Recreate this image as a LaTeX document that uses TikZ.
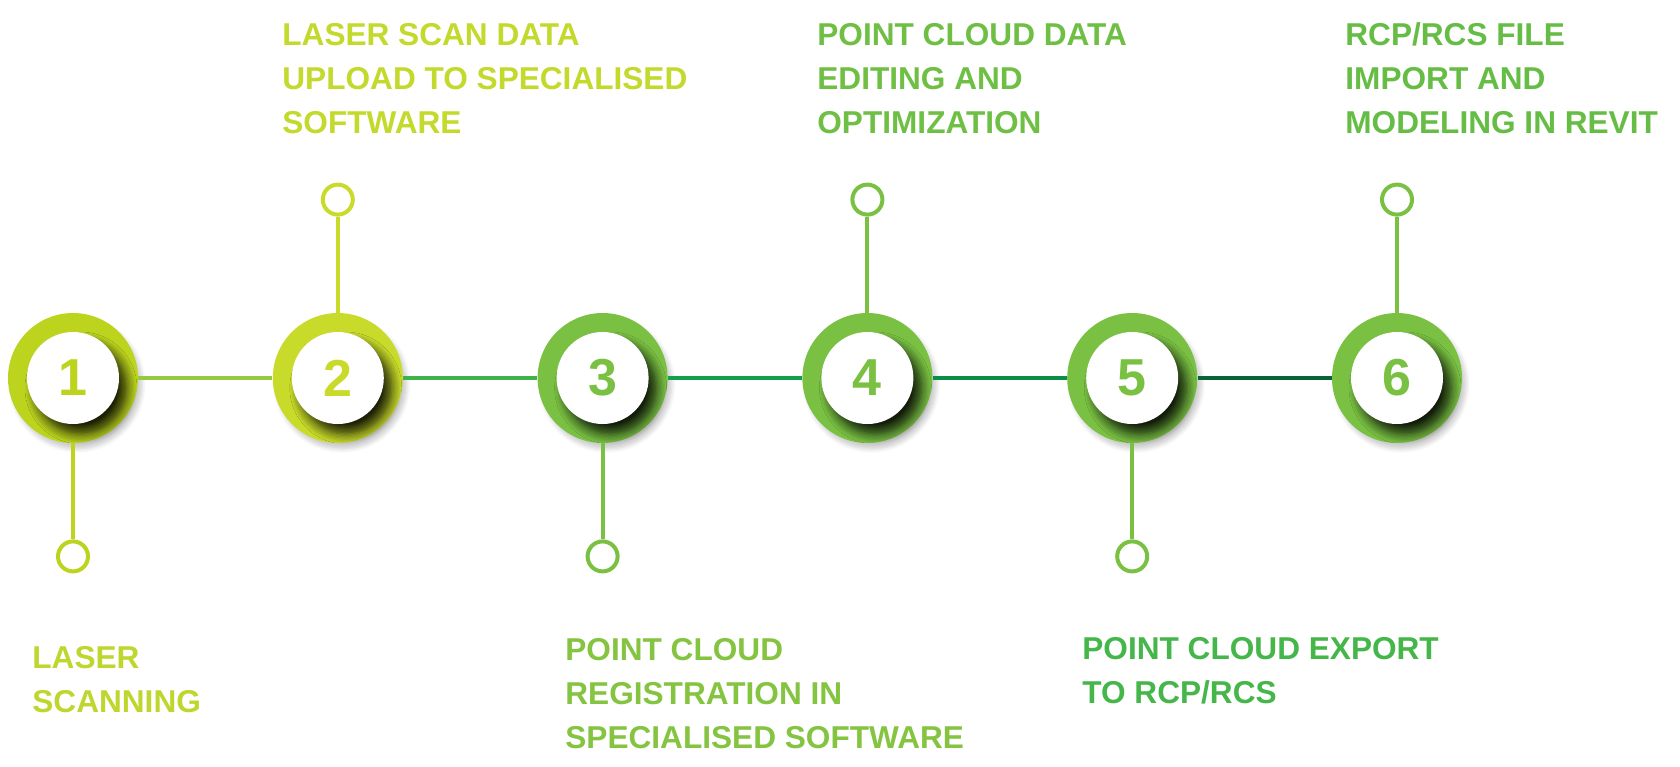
\documentclass[tikz,border=0pt]{standalone}
\usepackage{fontspec}
\setmainfont{Liberation Sans}
\usepackage{tikz}
\usetikzlibrary{positioning,shadows,shadows.blur}
\definecolor{limeA}{HTML}{BCD41E}
\definecolor{limeB}{HTML}{C8DB2A}
\definecolor{leaf}{HTML}{7AC143}
\definecolor{capA}{HTML}{BFD62F}
\definecolor{capB}{HTML}{C3D92C}
\definecolor{capC}{HTML}{85C441}
\definecolor{capD}{HTML}{6FBF45}
\definecolor{capE}{HTML}{45B649}
\definecolor{capF}{HTML}{66BD45}
\definecolor{linkA}{HTML}{96C93D}
\definecolor{linkB}{HTML}{3FB34A}
\definecolor{linkC}{HTML}{12A04B}
\definecolor{linkD}{HTML}{0C8C45}
\definecolor{linkE}{HTML}{0A6238}
\tikzset{
    % Define style for the coloured rings
    ring/.style={circle,fill=#1,minimum size=65pt,inner sep=0pt,
        blur shadow={shadow xshift=2pt,shadow yshift=-3pt,shadow opacity=20,shadow blur steps=6}},
    % Define style for the white faces with the numbers
    face/.style={circle,fill=white,text=#1,minimum size=46pt,inner sep=0pt,
        font=\bfseries\fontsize{26}{26}\selectfont,
        blur shadow={shadow xshift=4pt,shadow yshift=-5pt,shadow opacity=85,
            shadow blur radius=5pt,shadow blur steps=8}},
    % Define style for the small end circles
    pin/.style={circle,draw=#1,fill=white,line width=2pt,minimum size=15pt,inner sep=0pt},
    % Define line styles
    stem/.style={line width=2pt},
    link/.style={line width=2pt},
    % Define style for the step texts (anchored at the last baseline)
    caption/.style={anchor=base west,align=left,inner sep=0pt,text=#1,
        font=\bfseries\fontsize{15.8}{22}\selectfont}
}

\begin{document}
\begin{tikzpicture}[x=0.5pt,y=-0.5pt,node distance=67pt]
  \useasboundingbox (0,0) rectangle (1680,766);
  % rings
  \node[ring=limeA] (r1) at (73,378) {};
  \node[ring=limeB] (r2) [right=of r1] {};
  \node[ring=leaf ] (r3) [right=of r2] {};
  \node[ring=leaf ] (r4) [right=of r3] {};
  \node[ring=leaf ] (r5) [right=of r4] {};
  \node[ring=leaf ] (r6) [right=of r5] {};
  % links
  \draw[link,linkA] (r1) -- (r2);
  \draw[link,linkB] (r2) -- (r3);
  \draw[link,linkC] (r3) -- (r4);
  \draw[link,linkD] (r4) -- (r5);
  \draw[link,linkE] (r5) -- (r6);
  % faces
  \node[face=limeA] (f1) at (r1) {1};
  \node[face=limeB] (f2) at (r2) {2};
  \node[face=leaf ] (f3) at (r3) {3};
  \node[face=leaf ] (f4) at (r4) {4};
  \node[face=leaf ] (f5) at (r5) {5};
  \node[face=leaf ] (f6) at (r6) {6};
  % pins
  \node[pin=limeA] (p1) [below=48pt of r1] {};
  \node[pin=limeB] (p2) [above=48pt of r2] {};
  \node[pin=leaf ] (p3) [below=48pt of r3] {};
  \node[pin=leaf ] (p4) [above=48pt of r4] {};
  \node[pin=leaf ] (p5) [below=48pt of r5] {};
  \node[pin=leaf ] (p6) [above=48pt of r6] {};
  \draw[stem,limeA] (r1) -- (p1);
  \draw[stem,limeB] (r2) -- (p2);
  \draw[stem,leaf ] (r3) -- (p3);
  \draw[stem,leaf ] (r4) -- (p4);
  \draw[stem,leaf ] (r5) -- (p5);
  \draw[stem,leaf ] (r6) -- (p6);
  % captions
  \node[caption=capA] (c1) at (32,712) {LASER\\SCANNING};
  \node[caption=capB] (c2) at (282,133) {LASER SCAN DATA\\UPLOAD TO SPECIALISED\\SOFTWARE};
  \node[caption=capC] (c3) at (565,748) {POINT CLOUD\\REGISTRATION IN\\SPECIALISED SOFTWARE};
  \node[caption=capD] (c4) at (817,133) {POINT CLOUD DATA\\EDITING AND\\OPTIMIZATION};
  \node[caption=capE] (c5) at (1082,703) {POINT CLOUD EXPORT\\TO RCP/RCS};
  \node[caption=capF] (c6) at (1345,133) {RCP/RCS FILE\\IMPORT AND\\MODELING IN REVIT};
\end{tikzpicture}
\end{document}
